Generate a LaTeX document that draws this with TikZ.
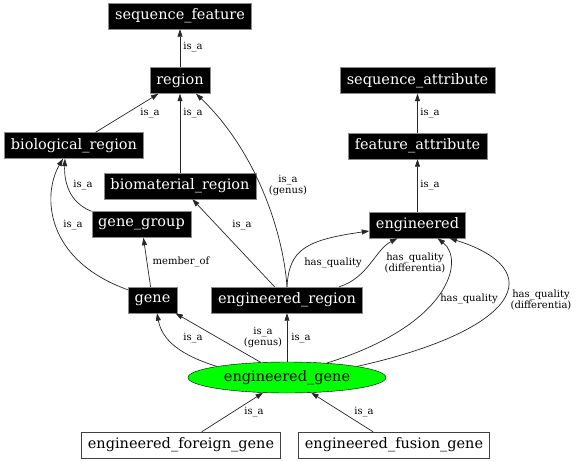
\documentclass[tikz,border=0pt]{standalone}
\usepackage{fontspec}
\setmainfont{DejaVu Serif}
\usetikzlibrary{arrows.meta}
\usetikzlibrary{shapes.geometric}

\begin{document}
\begin{tikzpicture}[x=1pt, y=-1pt,
	term/.style={fill=black, draw=black!45, text=white, font=\fontsize{14.5}{16}\selectfont, minimum height=26pt, inner xsep=6.5pt, inner ysep=0pt},
	leaf/.style={fill=white, draw=black!75, text=black, font=\fontsize{14.5}{16}\selectfont, minimum height=26pt, inner xsep=6.5pt, inner ysep=0pt},
	focus/.style={ellipse, fill=green, draw=black, font=\fontsize{14.5}{16}\selectfont, minimum width=198pt, minimum height=31pt, inner sep=0pt},
	rel/.style={-{Triangle[length=7.5pt,width=5pt]}, draw=black!85, line width=0.7pt},
	lbl/.style={font=\fontsize{10}{11}\selectfont, align=center, inner sep=0pt, text=black}]
	\useasboundingbox (0,0) rectangle (576,461);

	\node[term] (seqfeat) at (180,16) {sequence\_feature};
	\node[term] (region) at (180,80.5) {region};
	\node[term] (biological) at (74,145.5) {biological\_region};
	\node[term] (biomaterial) at (180,186) {biomaterial\_region};
	\node[term] (genegroup) at (141.5,224.5) {gene\_group};
	\node[term] (gene) at (152.5,300) {gene};
	\node[term] (engregion) at (287,300) {engineered\_region};
	\node[term] (engineered) at (417.5,225) {engineered};
	\node[term] (featattr) at (417.5,146) {feature\_attribute};
	\node[term] (seqattr) at (417.5,80.5) {sequence\_attribute};
	\node[focus] (enggene) at (287,377.5) {engineered\_gene};
	\node[leaf] (foreign) at (181,445) {engineered\_foreign\_gene};
	\node[leaf] (fusion) at (394,445) {engineered\_fusion\_gene};

	\draw[rel] (region) -- (seqfeat) node[lbl] (lregsf) at (193,47) {is\_a};
	\draw[rel] (biological) -- (region) node[lbl] (lbioreg) at (150,113) {is\_a};
	\draw[rel] (biomaterial) -- (region) node[lbl] (lmatreg) at (193,113) {is\_a};
	\draw[rel] (genegroup.north west) .. controls (68,202) and (64,180) .. ([xshift=-9pt]biological.south) node[lbl] (lgrpbio) at (83,185) {is\_a};
	\draw[rel] ([yshift=-3pt]gene.north west) .. controls (45,260) and (42,195) .. ([xshift=-11pt]biological.south) node[lbl] (lgenebio) at (73,225) {is\_a};
	\draw[rel] (gene) -- (genegroup) node[lbl] (lmember) at (181,262) {member\_of};
	\draw[rel] (engregion) -- (biomaterial) node[lbl] (lengmat) at (242,225) {is\_a};
	\draw[rel] (engregion.north) .. controls (283,230) and (255,150) .. ([xshift=16pt]region.south) node[lbl] (lengreg) at (288,185) {is\_a\\(genus)};
	\draw[rel] (engregion.north) .. controls (289,250) and (305,240) .. ([yshift=-6pt]engineered.west) node[lbl] (lhq1) at (333,263) {has\_quality};
	\draw[rel] ([xshift=52pt]engregion.north) .. controls (368,278) and (375,250) .. ([xshift=-20pt]engineered.south) node[lbl] (lhqd1) at (415,263) {has\_quality\\(differentia)};
	\draw[rel] (engineered) -- (featattr) node[lbl] (lengfeat) at (430,185) {is\_a};
	\draw[rel] (featattr) -- (seqattr) node[lbl] (lfeatseq) at (430,113) {is\_a};
	\draw[rel] (enggene) -- (engregion) node[lbl] (lgreg) at (301,338) {is\_a};
	\draw[rel] (enggene) -- (gene) node[lbl] (lgenus) at (263,337) {is\_a\\(genus)};
	\draw[rel] (enggene.171) .. controls (180,355) and (162,340) .. ([xshift=4.5pt]gene.south) node[lbl] (lggene) at (193,338) {is\_a};
	\draw[rel] (enggene.20) .. controls (450,325) and (465,260) .. ([xshift=20pt]engineered.south) node[lbl] (lhq2) at (469,299) {has\_quality};
	\draw[rel] (enggene.9) .. controls (520,330) and (550,270) .. ([xshift=32pt]engineered.south) node[lbl] (lhqd2) at (541,300) {has\_quality\\(differentia)};
	\draw[rel] (foreign) -- (enggene) node[lbl] (lforeign) at (254,412) {is\_a};
	\draw[rel] (fusion) -- (enggene) node[lbl] (lfusion) at (364,412) {is\_a};
\end{tikzpicture}
\end{document}
